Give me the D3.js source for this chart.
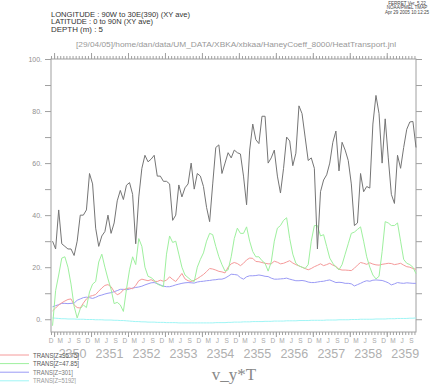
<!DOCTYPE html>
<html><head><meta charset="utf-8">
<script src="https://cdn.jsdelivr.net/npm/d3@7"></script>
<style>body{margin:0;background:#fff}svg{display:block}</style>
</head><body>
<script>
// Monthly series, Dec 2349 .. Oct 2359 (index 0 = Dec 2349)
const startMonth = -1; // month offset of first point relative to Jan 2350
const transTop = [30,27,42,29,28,27,27,24.5,30,40,40,42,56,52,35,28,32,33.7,40,33,37,45.5,49.5,46,51.5,52.5,48,29,47,58,63,60.5,61.5,63,55,55,53,53,52,38,40,51.6,47,50.5,52,60,50,56,55,51,43,37.5,52,66,67,56,60,64,62,65,64,63.5,55,44,65,75,69,67.5,78,78,60,62,65,55,48.5,58,70,68.5,59,63.8,82,79,70,61,62,58,27,49,53.5,55.5,60,68,72.3,57,68,65,61,52,36,37,56,49,51,50.4,75,86,79,60,77,62,48,44.5,63,58,66,73,75.8,76,66];
const trans95 = [3.2,4.3,5.5,6.3,7,7.6,7.8,5.5,4.5,4.3,6.2,7.8,8.8,9.1,9.5,10.8,12,13,13.3,12.5,10.6,9.4,10,11.3,11.8,12,11.7,13,14.8,15.4,15.1,14.8,15.2,14.6,14.5,15,14.6,15,16.3,15.3,14.5,16,17.6,15.5,14.8,14.5,15,15.6,16.4,17.2,18.3,19.5,19.3,18.9,18.4,18.2,17.8,20,21.3,21.8,21.4,20.6,21.5,22.8,23.5,23.4,22.2,22.1,21.8,21.5,21.3,21.3,22.3,21.9,21.3,21.5,22,22.5,21.6,21,20.5,20,19.5,19,19.5,20.2,20.7,21.3,20.6,21,21.5,20.8,20.3,19.2,18.9,18.9,18.8,18.7,19.6,20.8,21.8,21.5,21.1,21.7,21.2,20.9,20.8,21.1,21.3,21.5,21.4,21,21.2,21.5,20.8,20.2,20,19.5,19.2];
const trans47 = [-2.5,11,17,23.5,24,20,13.5,5,0.5,4,5.5,4.5,10.5,13.5,14.5,22,25,20,15.5,11.5,6,6.5,5.5,3,11.5,19,24,21,31,28,20,16.5,16,15,13.5,13,12.5,25,32,29.5,30,25,20,17,16,15,14.5,20,23,25.5,30,33,32.5,28,24,21,18.5,19,24,31,35,33,33,35.5,30,26,24,24,22.5,21.5,18.5,22,30,35,36,38,39,31,25,21.5,20.5,20,19.5,21,30,36,36,32,32.5,28,23.5,21.5,20,19,21,25,29,33,33.5,34.5,35.5,30,24,20,17,15.5,16.5,26,37.5,37,36,36,37,30,23,21.5,21,20,17.5];
const trans301 = [4.8,5.2,5.6,6.1,6.1,6,6.1,6.2,7.3,7.8,8.3,8.5,8.3,8,8.4,9,9.3,9.7,10,10.2,10.6,11,11.5,11.5,11.3,11.6,12,12.2,12.4,12.7,13.2,13.6,14,14.1,13.7,13.2,12.7,12.5,12.5,12.8,13.2,13.5,13.8,14,14.1,14,13.9,14.3,14.5,14.6,14.8,14.9,15.1,15.2,15.4,15.4,15.8,16.5,17.3,17.2,17,16,15.4,16.3,16.7,16.7,16.8,17,16.8,16.5,16.4,15.8,15.4,15.4,15.5,15.6,15.8,15.4,15.1,14.8,14.8,14.9,14.7,14.3,14.1,14.1,14.3,14.5,14.6,14.9,15.1,14.6,14.1,14.2,14.1,13.8,13.8,13.6,12.8,13.3,13.8,14.4,14.8,14.6,15,15.1,15,14.9,14.5,14,13.2,13.6,14.1,13.9,13.8,14,13.9,13.8,13.8];
const trans5192 = [0.5,0.4,0.3,0.2,0.2,0.1,0.1,0.1,0,0,0,-0.1,-0.1,-0.1,-0.2,-0.2,-0.2,-0.3,-0.3,-0.3,-0.4,-0.4,-0.5,-0.5,-0.6,-0.7,-0.8,-0.9,-0.9,-1,-1,-1.1,-1.1,-1.1,-1.2,-1.2,-1.2,-1.3,-1.3,-1.3,-1.3,-1.4,-1.4,-1.4,-1.4,-1.4,-1.4,-1.4,-1.4,-1.4,-1.4,-1.4,-1.4,-1.3,-1.3,-1.3,-1.3,-1.2,-1.2,-1.1,-1.1,-1.1,-1,-1,-1,-0.9,-0.9,-0.9,-0.9,-0.8,-0.8,-0.8,-0.7,-0.7,-0.7,-0.7,-0.6,-0.6,-0.6,-0.6,-0.5,-0.5,-0.5,-0.5,-0.4,-0.4,-0.4,-0.4,-0.4,-0.3,-0.3,-0.3,-0.3,-0.2,-0.2,-0.2,-0.2,-0.1,-0.1,-0.1,0,0,0,0,0,0.1,0.1,0.1,0.1,0.2,0.2,0.2,0.3,0.3,0.3,0.3,0.4,0.4,0.5];

const years = [2350,2351,2352,2353,2354,2355,2356,2357,2358,2359];
const monthLetters = {11:"D",2:"M",5:"J",8:"S"};
const yLabelTicks = [0,20,40,60,80,100];
const legendNames = ["TRANS[Z=95.75]","TRANS[Z=47.85]","TRANS[Z=301]","TRANS[Z=5192]"];
const headerLines = ["LONGITUDE : 90W to 30E(390) (XY ave)","LATITUDE : 0 to 90N (XY ave)","DEPTH (m) : 5"];
const journalText = "[29/04/05]/home/dan/data/UM_DATA/XBKA/xbkaa/HaneyCoeff_8000/HeatTransport.jnl";
const stampLines = ["FERRET Ver. 5.22","NOAA/PMEL TMAP","Apr 29 2005 10:12:25"];

const W=440,H=384;
const L=51,R=416,T=59,B=332;
const svg=d3.select("body").append("svg").attr("width",W).attr("height",H);
const x=d3.scaleLinear().domain([-1,117.5]).range([L,R]);
const y=d3.scaleLinear().domain([-4.9,100]).range([B,T]);
const axisCol="#a0a0a0";
const font="'Liberation Sans', Arial, sans-serif";

// frame
svg.append("rect").attr("x",L).attr("y",T).attr("width",R-L).attr("height",B-T)
  .attr("fill","none").attr("stroke",axisCol).attr("stroke-width",1);

const monthTicks=d3.range(-1,118);
const yearTicks=years.map((yr,i)=>i*12);
function styleAxis(g){g.select(".domain").remove();g.selectAll("line").attr("stroke",axisCol);g.selectAll("text").remove();}
svg.append("g").attr("transform",`translate(0,${T})`).call(d3.axisTop(x).tickValues(monthTicks).tickSize(3)).call(styleAxis);
svg.append("g").attr("transform",`translate(0,${T})`).call(d3.axisTop(x).tickValues(yearTicks).tickSize(6)).call(styleAxis);
svg.append("g").attr("transform",`translate(0,${B})`).call(d3.axisBottom(x).tickValues(monthTicks).tickSize(3)).call(styleAxis);
svg.append("g").attr("transform",`translate(0,${B})`).call(d3.axisBottom(x).tickValues(yearTicks).tickSize(5)).call(styleAxis);
svg.append("g").attr("transform",`translate(${L},0)`).call(d3.axisLeft(y).tickValues(d3.range(0,101,10)).tickSize(6)).call(styleAxis);
svg.append("g").attr("transform",`translate(${R},0)`).call(d3.axisRight(y).tickValues(d3.range(0,101,10)).tickSize(6)).call(styleAxis);

// y labels
svg.append("g").selectAll("text").data(yLabelTicks).join("text")
  .attr("x",42).attr("y",d=>y(d)+2.5).attr("text-anchor","end")
  .attr("font-family",font).attr("font-size",7).attr("fill","#909090").text(d=>d+".");

// month letters
svg.append("g").selectAll("text").data(monthTicks.filter(m=>monthLetters[((m%12)+12)%12])).join("text")
  .attr("x",d=>x(d)).attr("y",343).attr("text-anchor","middle")
  .attr("font-family",font).attr("font-size",6.5).attr("fill","#a8a8a8")
  .text(d=>monthLetters[((d%12)+12)%12]);
// years
svg.append("g").selectAll("text").data(years).join("text")
  .attr("x",(d,i)=>x(i*12+6)).attr("y",358).attr("text-anchor","middle")
  .attr("font-family",font).attr("font-size",12.5).attr("fill","#b0b0b0").text(d=>d);

// lines
const series=[
  {v:transTop,c:"#757575"},
  {v:trans47,c:"#9ef09e"},
  {v:trans95,c:"#f59a9a"},
  {v:trans301,c:"#9a9af5"},
  {v:trans5192,c:"#9ff5f5"}
];
const line=d3.line().x((d,i)=>x(startMonth+i+0.5)).y(d=>y(d));
series.slice().reverse().forEach(s=>{
  svg.append("path").datum(s.v).attr("d",line).attr("fill","none").attr("stroke",s.c).attr("stroke-width",1);
});

// legend
const legCols=["#f59a9a","#9ef09e","#9a9af5","#9ff5f5"];
const legText=["#555","#555","#777","#999"];
const lg=svg.append("g").selectAll("g").data(legendNames).join("g")
  .attr("transform",(d,i)=>`translate(0,${355+i*8.6})`);
lg.append("line").attr("x1",0).attr("x2",29).attr("y1",0).attr("y2",0).attr("stroke",(d,i)=>legCols[i]).attr("stroke-width",1);
lg.append("text").attr("x",33).attr("y",2.5).attr("font-family",font).attr("font-size",6.5)
  .attr("textLength",(d,i)=>[46,46,40,43][i]).attr("lengthAdjust","spacingAndGlyphs")
  .attr("fill",(d,i)=>legText[i]).text(d=>d);

// header
const headerLen=[139,102,52];
svg.append("g").selectAll("text").data(headerLines).join("text")
  .attr("x",51).attr("y",(d,i)=>16.5+i*7.6).attr("font-family",font).attr("font-size",7.5)
  .attr("textLength",(d,i)=>headerLen[i]).attr("lengthAdjust","spacingAndGlyphs")
  .attr("fill","#333").text(d=>d);
svg.append("text").attr("x",76).attr("y",46.5).attr("font-family",font).attr("font-size",7.5)
  .attr("textLength",320).attr("lengthAdjust","spacingAndGlyphs").attr("fill","#999").text(journalText);
svg.append("g").selectAll("text").data(stampLines).join("text")
  .attr("x",407).attr("y",(d,i)=>4.5+i*4.5).attr("text-anchor","middle")
  .attr("font-family",font).attr("font-size",4.6).attr("fill","#444").text(d=>d);

// x axis title
svg.append("text").attr("x",234).attr("y",380).attr("text-anchor","middle")
  .attr("font-family","'Liberation Serif', 'Times New Roman', serif").attr("font-size",17)
  .attr("fill","#888").text("v_y*T");
</script>
</body></html>
